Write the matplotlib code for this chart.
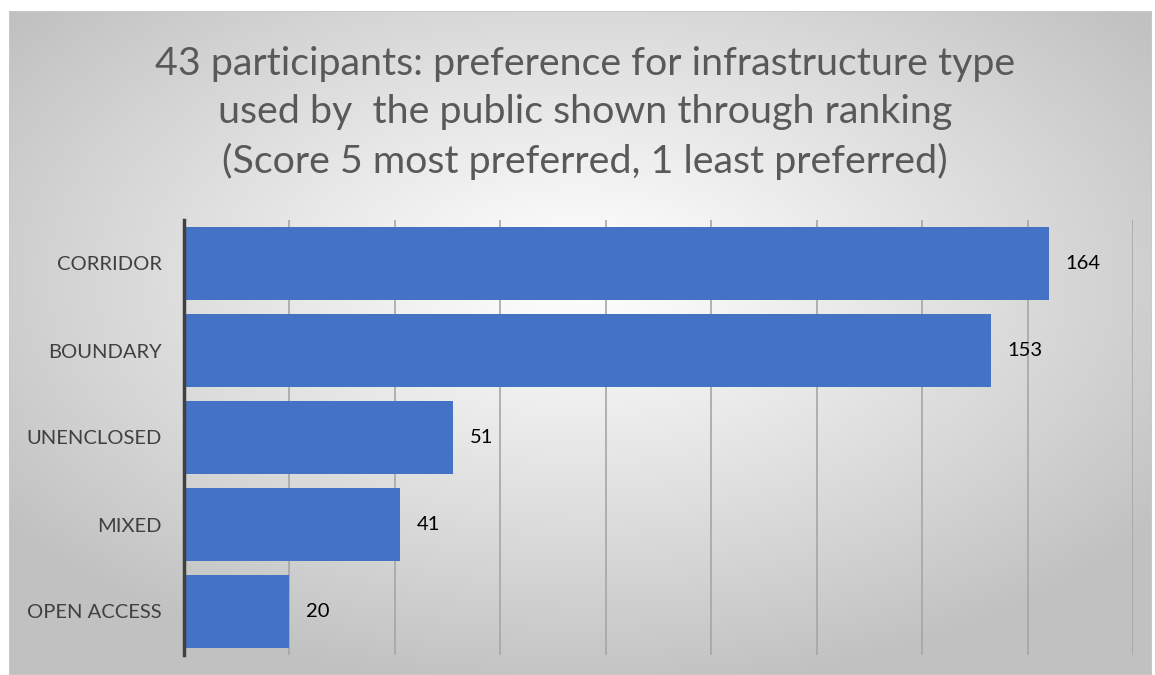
import numpy as np
import matplotlib
matplotlib.use("Agg")
import matplotlib.pyplot as plt
from matplotlib.patches import Rectangle

categories = ["CORRIDOR", "BOUNDARY", "UNENCLOSED", "MIXED", "OPEN ACCESS"]
scores = [164, 153, 51, 41, 20]
title = ("43 participants: preference for infrastructure type\n"
         "used by  the public shown through ranking\n"
         "(Score 5 most preferred, 1 least preferred)")

FONT = "Lato"
W, H = 1155, 675
fig = plt.figure(figsize=(W / 100, H / 100), dpi=100)
fig.patch.set_facecolor("white")

# chart box with a radial grey gradient
bx0, by0, bx1, by1 = 9, 11, 1152, 675
bg = fig.add_axes([bx0 / W, 1 - by1 / H, (bx1 - bx0) / W, (by1 - by0) / H])
ny, nx = 300, 520
yy, xx = np.mgrid[0:ny, 0:nx]
cx, cy = 0.50 * nx, 0.40 * ny
r = np.sqrt(((xx - cx) / nx) ** 2 + ((yy - cy) / ny) ** 2) / 0.62
r = np.clip(r, 0, 1)
val = 1.0 - 0.24 * r ** 1.1
img = np.dstack([val, val, val])
bg.imshow(img, aspect="auto", extent=[0, 1, 0, 1], origin="upper")
bg.set_xlim(0, 1)
bg.set_ylim(0, 1)
bg.axis("off")
bg.add_patch(Rectangle((0, 0), 1, 1, transform=bg.transAxes, fill=False,
                       edgecolor="#c8c8c8", linewidth=1.2))

fig.text(585 / W, 1 - 113 / H, title, ha="center", va="center",
         fontsize=28.4, color="#595959", family=FONT, linespacing=1.43)

# plot area
ax = fig.add_axes([184 / W, 1 - 655 / H, (1133 - 184) / W, (655 - 220) / H])
ax.patch.set_alpha(0)
y = np.arange(len(categories))
ax.barh(y, scores, height=0.84, color="#4472C4", zorder=3)
ax.set_xlim(0, 180)
ax.set_ylim(len(categories) - 0.5, -0.5)
ax.set_xticks(np.arange(0, 181, 20))
ax.xaxis.grid(True, color="#a6a6a6", linewidth=1.2, zorder=0)
ax.tick_params(axis="x", length=0, labelbottom=False)
ax.tick_params(axis="y", length=0, pad=16)
ax.set_yticks(y)
ax.set_yticklabels(categories, fontsize=14.5, color="#404040", family=FONT)
for s in ["top", "right", "bottom"]:
    ax.spines[s].set_visible(False)
ax.spines["left"].set_color("#404040")
ax.spines["left"].set_linewidth(2.5)
ax.spines["left"].set_zorder(4)

for yi, v in zip(y, scores):
    ax.text(v + 3.2, yi, str(v), va="center", ha="left", fontsize=14.5,
            color="black", family=FONT, zorder=5)

fig.savefig("out.png", dpi=100, facecolor="white")
